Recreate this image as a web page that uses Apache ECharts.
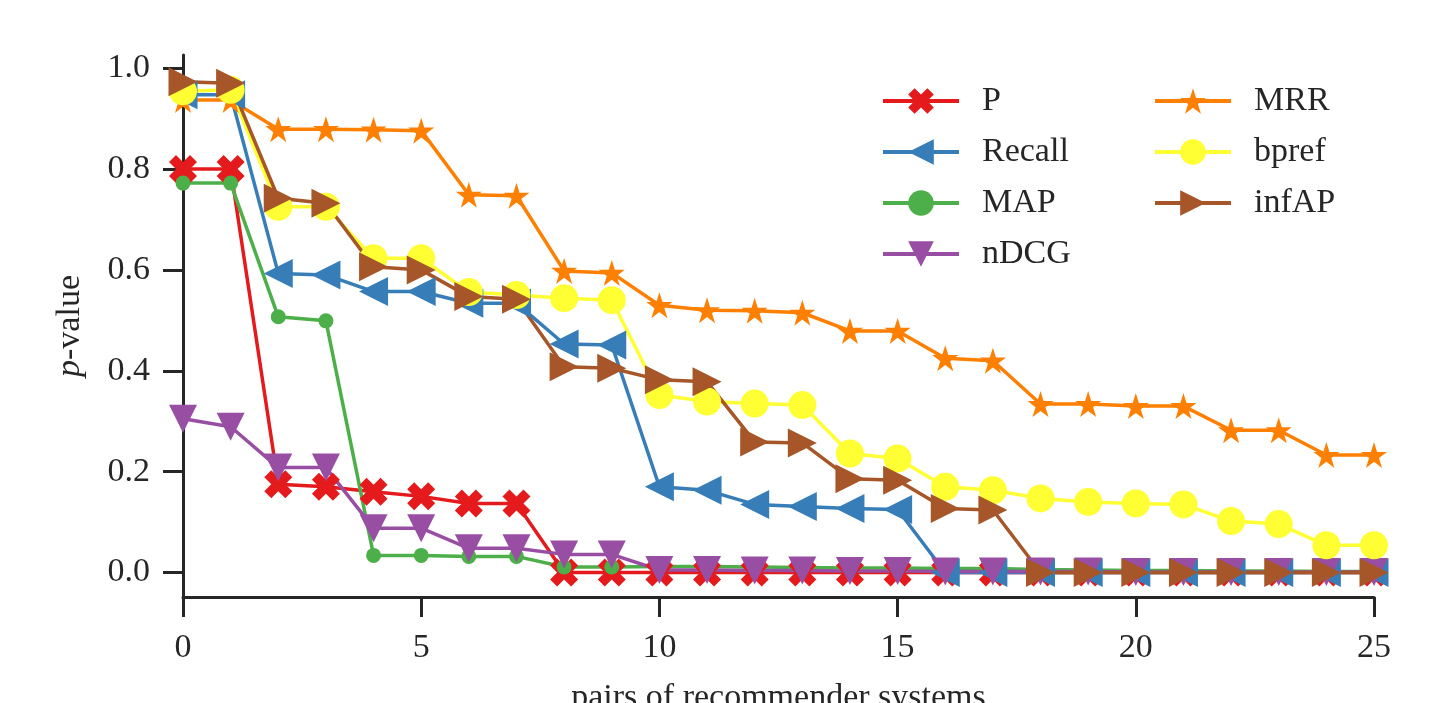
<!DOCTYPE html>
<html>
<head>
<meta charset="utf-8">
<script src="https://cdn.jsdelivr.net/npm/echarts@6/dist/echarts.min.js"></script>
<style>
  html, body { margin: 0; padding: 0; background: #fff; }
  #chart { width: 1445px; height: 703px; }
</style>
</head>
<body>
<div id="chart"></div>
<script>
    "use strict";

    // pair index on the x axis
    var pairs = [];
    for (var i = 0; i <= 25; i++) pairs.push(i);

    var xTicks = [0, 5, 10, 15, 20, 25];
    var yTicks = [0.0, 0.2, 0.4, 0.6, 0.8, 1.0];

    var P      = [0.800, 0.800, 0.175, 0.170, 0.160, 0.151, 0.137, 0.137, 0.000, 0.000, 0.000, 0.000, 0.000,
                  0.000, 0.000, 0.000, 0.000, 0.000, 0.000, 0.000, 0.000, 0.000, 0.000, 0.000, 0.000, 0.000];
    var Recall = [0.947, 0.947, 0.593, 0.590, 0.557, 0.557, 0.534, 0.534, 0.453, 0.451, 0.170, 0.163, 0.135,
                  0.131, 0.127, 0.125, 0.000, 0.000, 0.000, 0.000, 0.000, 0.000, 0.000, 0.000, 0.000, 0.000];
    var MAP    = [0.772, 0.772, 0.507, 0.499, 0.034, 0.034, 0.032, 0.032, 0.011, 0.011, 0.012, 0.012, 0.011,
                  0.010, 0.009, 0.009, 0.008, 0.008, 0.006, 0.005, 0.004, 0.004, 0.003, 0.003, 0.002, 0.002];
    var nDCG   = [0.305, 0.289, 0.208, 0.208, 0.088, 0.088, 0.048, 0.048, 0.036, 0.036, 0.005, 0.005, 0.004,
                  0.004, 0.003, 0.003, 0.002, 0.002, 0.002, 0.002, 0.001, 0.001, 0.001, 0.001, 0.001, 0.001];
    var MRR    = [0.937, 0.937, 0.879, 0.879, 0.878, 0.876, 0.749, 0.747, 0.598, 0.594, 0.530, 0.520, 0.519,
                  0.515, 0.479, 0.479, 0.425, 0.420, 0.334, 0.334, 0.330, 0.330, 0.282, 0.282, 0.233, 0.233];
    var bpref  = [0.954, 0.957, 0.725, 0.725, 0.623, 0.623, 0.556, 0.550, 0.544, 0.540, 0.352, 0.339, 0.335,
                  0.332, 0.236, 0.226, 0.170, 0.163, 0.147, 0.140, 0.137, 0.135, 0.102, 0.096, 0.054, 0.054];
    var infAP  = [0.973, 0.970, 0.742, 0.732, 0.606, 0.600, 0.547, 0.542, 0.408, 0.405, 0.382, 0.378, 0.259,
                  0.257, 0.186, 0.183, 0.127, 0.124, 0.000, 0.000, 0.000, 0.000, 0.000, 0.000, 0.000, 0.000];

    var axisColor = '#262626';
    var font = 'Liberation Serif';

    // marker shapes
    var xMarker = 'path://M0,2.5L2.5,0L5,2.5L7.5,0L10,2.5L7.5,5L10,7.5L7.5,10L5,7.5L2.5,10L0,7.5L2.5,5Z';
    var starMarker = 'path://M10,0L12.245,6.91L19.51,6.91L13.63,11.18L15.88,18.09L10,13.82L4.12,18.09L6.37,11.18L0.49,6.91L7.755,6.91Z';

    function zip(ys) {
        return pairs.map(function(x, k) { return [x, ys[k]]; });
    }

    function makeSeries(name, ys, color, symbol, size, rotate) {
        return {
            name: name,
            type: 'line',
            data: zip(ys),
            symbol: symbol,
            symbolSize: size,
            symbolRotate: rotate || 0,
            showAllSymbol: true,
            clip: true,
            lineStyle: { color: color, width: 3.5 },
            itemStyle: { color: color, opacity: 1 },
            emphasis: { disabled: true }
        };
    }

    var chart = echarts.init(document.getElementById('chart'));

    var legendCommon = {
        orient: 'vertical',
        top: 79,
        itemWidth: 76,
        itemHeight: 32,
        itemGap: 17,
        lineStyle: { width: 4 },
        textStyle: { fontFamily: font, fontSize: 34, color: axisColor, padding: [0, 0, 0, 18] },
        selectedMode: false
    };

    var option = {
        animation: false,
        backgroundColor: '#fff',
        grid: { left: 183, right: 71, top: 55, bottom: 106, outerBoundsMode: 'none', containLabel: false },

        legend: [
            Object.assign({ left: 876, data: ['P', 'Recall', 'MAP', 'nDCG'] }, legendCommon),
            Object.assign({ left: 1148, data: ['MRR', 'bpref', 'infAP'] }, legendCommon)
        ],

        xAxis: {
            type: 'value',
            min: 0,
            max: 25,
            interval: 5,
            name: 'pairs of recommender systems',
            nameLocation: 'middle',
            nameGap: 84,
            nameTextStyle: { fontFamily: font, fontSize: 34, color: axisColor },
            splitLine: { show: false },
            axisLine: { show: true, onZero: false, lineStyle: { color: axisColor, width: 3 } },
            axisTick: { show: true, length: 20, lineStyle: { color: axisColor, width: 3 } },
            axisLabel: { fontFamily: font, fontSize: 34, color: axisColor, margin: 34,
                customValues: xTicks }
        },

        yAxis: {
            type: 'value',
            min: -0.0485,
            max: 1.026,
            name: '{i|p}-value',
            nameLocation: 'middle',
            nameGap: 96,
            nameRotate: 90,
            nameTextStyle: {
                fontFamily: font, fontSize: 34, color: axisColor,
                rich: { i: { fontFamily: font, fontSize: 34, fontStyle: 'italic', color: axisColor } }
            },
            splitLine: { show: false },
            axisLine: { show: true, onZero: false, lineStyle: { color: axisColor, width: 3 } },
            axisTick: { show: true, length: 20, lineStyle: { color: axisColor, width: 3 },
                customValues: yTicks },
            axisLabel: { fontFamily: font, fontSize: 34, color: axisColor, margin: 33,
                customValues: yTicks,
                formatter: function(v) { return v.toFixed(1); } }
        },

        series: [
            makeSeries('P', P, '#e41a1c', xMarker, 28),
            makeSeries('Recall', Recall, '#377eb8', 'triangle', 29, 90),
            makeSeries('MAP', MAP, '#4daf4a', 'circle', 15),
            makeSeries('nDCG', nDCG, '#984ea3', 'triangle', 28, 180),
            makeSeries('MRR', MRR, '#ff7f00', starMarker, 26),
            makeSeries('bpref', bpref, '#ffff33', 'circle', 28),
            makeSeries('infAP', infAP, '#a65628', 'triangle', 29, -90)
        ]
    };

    chart.setOption(option);
</script>
</body>
</html>
